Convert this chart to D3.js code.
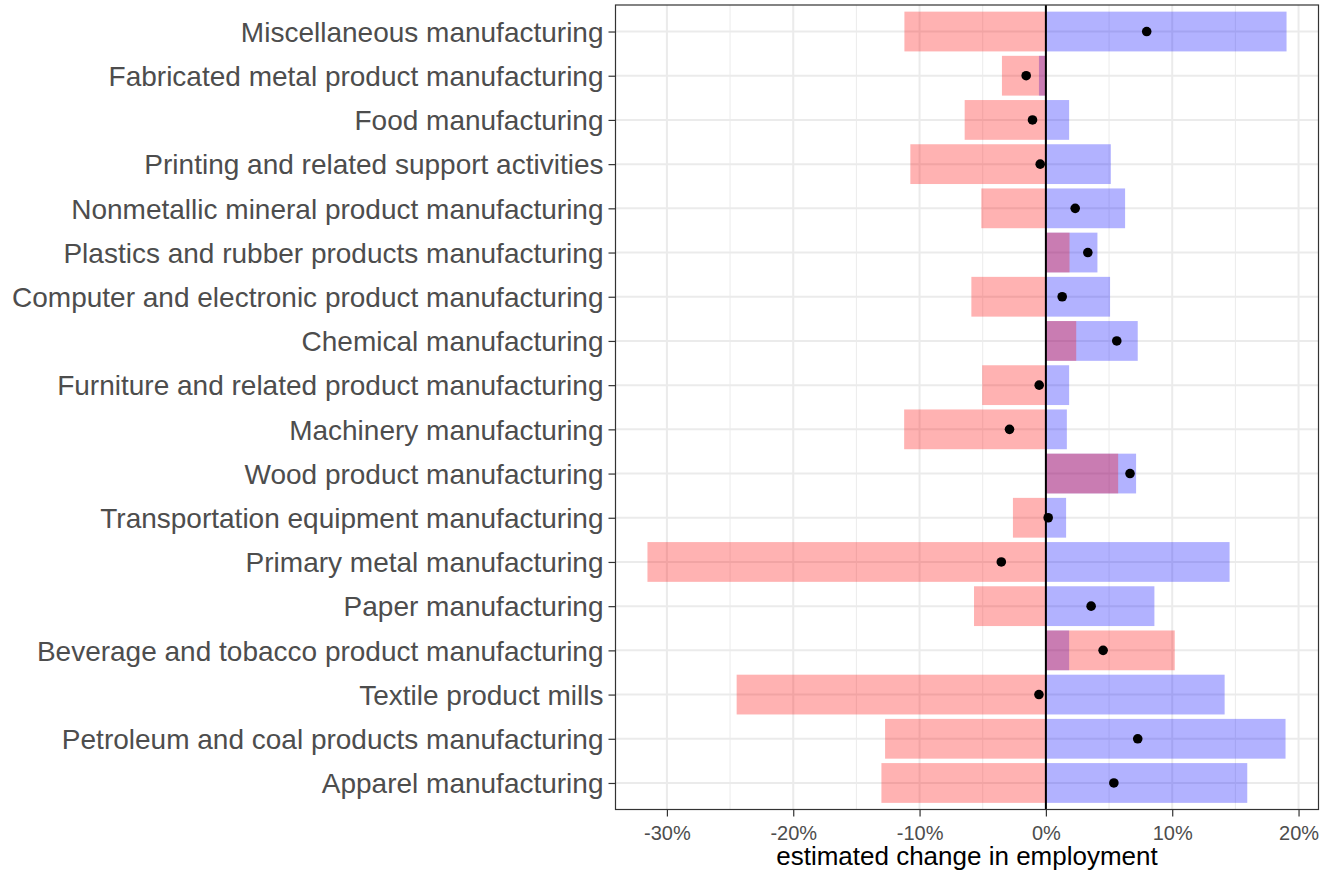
<!DOCTYPE html>
<html>
<head>
<meta charset="utf-8">
<script src="https://cdn.jsdelivr.net/npm/d3@7"></script>
<style>
    body { margin: 0; background: #fff; }
    text { font-family: "Liberation Sans", Arial, sans-serif; }
</style>
</head>
<body>
<div id="chart"></div>
<script>
// industries, top to bottom as in the plot
let categories = [
    "Miscellaneous manufacturing",
    "Fabricated metal product manufacturing",
    "Food manufacturing",
    "Printing and related support activities",
    "Nonmetallic mineral product manufacturing",
    "Plastics and rubber products manufacturing",
    "Computer and electronic product manufacturing",
    "Chemical manufacturing",
    "Furniture and related product manufacturing",
    "Machinery manufacturing",
    "Wood product manufacturing",
    "Transportation equipment manufacturing",
    "Primary metal manufacturing",
    "Paper manufacturing",
    "Beverage and tobacco product manufacturing",
    "Textile product mills",
    "Petroleum and coal products manufacturing",
    "Apparel manufacturing"
];

// percent change
let redValues = [-11.2, -3.48, -6.43, -10.73, -5.11, 1.87, -5.9, 2.4, -5.04, -11.22, 5.72, -2.61, -31.54, -5.69, 10.2, -24.48, -12.73, -13.02];
let blueValues = [19.05, -0.55, 1.84, 5.14, 6.27, 4.08, 5.08, 7.27, 1.84, 1.66, 7.14, 1.6, 14.54, 8.59, 1.84, 14.15, 18.97, 15.94];
let pointValues = [7.98, -1.56, -1.06, -0.45, 2.32, 3.32, 1.29, 5.61, -0.53, -2.88, 6.66, 0.18, -3.53, 3.58, 4.53, -0.55, 7.27, 5.38];

let majorTicks = [-30, -20, -10, 0, 10, 20];
let minorTicks = [-25, -15, -5, 5, 15];
let xTitle = "estimated change in employment";

let width = 1333, height = 875;
let panel = { left: 615.5, right: 1318.5, top: 5, bottom: 809.5 };

let svg = d3.select("#chart").append("svg")
    .attr("width", width)
    .attr("height", height);

// ggplot style 5% expansion of the data range
let all = redValues.concat(blueValues, pointValues, [0]);
let ext = d3.extent(all);
let pad = (ext[1] - ext[0]) * 0.05;

let x = d3.scaleLinear()
    .domain([ext[0] - pad, ext[1] + pad])
    .range([panel.left, panel.right]);

let y = d3.scaleLinear()
    .domain([-0.6, categories.length - 1 + 0.6])
    .range([panel.top, panel.bottom]);

let barH = (y(1) - y(0)) * 0.9;

// grid
let grid = svg.append("g");
grid.selectAll(".minor").data(minorTicks).enter().append("line")
    .attr("x1", d => x(d)).attr("x2", d => x(d))
    .attr("y1", panel.top).attr("y2", panel.bottom)
    .style("stroke", "#ebebeb").style("stroke-width", 1);
grid.selectAll(".majorx").data(majorTicks).enter().append("line")
    .attr("x1", d => x(d)).attr("x2", d => x(d))
    .attr("y1", panel.top).attr("y2", panel.bottom)
    .style("stroke", "#ebebeb").style("stroke-width", 2);
grid.selectAll(".majory").data(categories).enter().append("line")
    .attr("x1", panel.left).attr("x2", panel.right)
    .attr("y1", (d, i) => y(i)).attr("y2", (d, i) => y(i))
    .style("stroke", "#ebebeb").style("stroke-width", 2);

// bars: blue first, red on top so the overlap turns pinkish purple
function drawBars(values, colour) {
    svg.append("g").selectAll("rect").data(values).enter().append("rect")
        .attr("x", d => Math.min(x(0), x(d)))
        .attr("y", (d, i) => y(i) - barH / 2)
        .attr("width", d => Math.abs(x(d) - x(0)))
        .attr("height", barH)
        .style("fill", colour)
        .style("fill-opacity", 0.3);
}
drawBars(blueValues, "#0000ff");
drawBars(redValues, "#ff0000");

// zero line
svg.append("line")
    .attr("x1", x(0)).attr("x2", x(0))
    .attr("y1", panel.top).attr("y2", panel.bottom)
    .style("stroke", "#000").style("stroke-width", 2);

// points
svg.append("g").selectAll("circle").data(pointValues).enter().append("circle")
    .attr("cx", d => x(d))
    .attr("cy", (d, i) => y(i))
    .attr("r", 4.8)
    .style("fill", "#000");

// panel border
svg.append("rect")
    .attr("x", panel.left).attr("y", panel.top)
    .attr("width", panel.right - panel.left)
    .attr("height", panel.bottom - panel.top)
    .style("fill", "none")
    .style("stroke", "#333333")
    .style("stroke-width", 1.2);

// x axis
let xAxis = d3.axisBottom(x)
    .tickValues(majorTicks)
    .tickSize(7)
    .tickPadding(6)
    .tickFormat(d => d + "%");
let gx = svg.append("g")
    .attr("transform", "translate(0," + panel.bottom + ")")
    .call(xAxis);
gx.select(".domain").remove();
gx.selectAll(".tick line").style("stroke", "#333333").style("stroke-width", 1.2);
gx.selectAll(".tick text")
    .style("font-size", "20px")
    .style("fill", "#4d4d4d")
    .attr("dy", "0.85em");

// y axis
let yAxis = d3.axisLeft(y)
    .tickValues(d3.range(categories.length))
    .tickSize(7)
    .tickPadding(5)
    .tickFormat(i => categories[i]);
let gy = svg.append("g")
    .attr("transform", "translate(" + panel.left + ",0)")
    .call(yAxis);
gy.select(".domain").remove();
gy.selectAll(".tick line").style("stroke", "#333333").style("stroke-width", 1.2);
gy.selectAll(".tick text")
    .style("font-size", "28px")
    .style("fill", "#4d4d4d")
    .attr("dy", "0.35em");

// x title
svg.append("text")
    .attr("x", (panel.left + panel.right) / 2)
    .attr("y", 865)
    .style("text-anchor", "middle")
    .style("font-size", "26px")
    .style("fill", "#000")
    .text(xTitle);
</script>
</body>
</html>
